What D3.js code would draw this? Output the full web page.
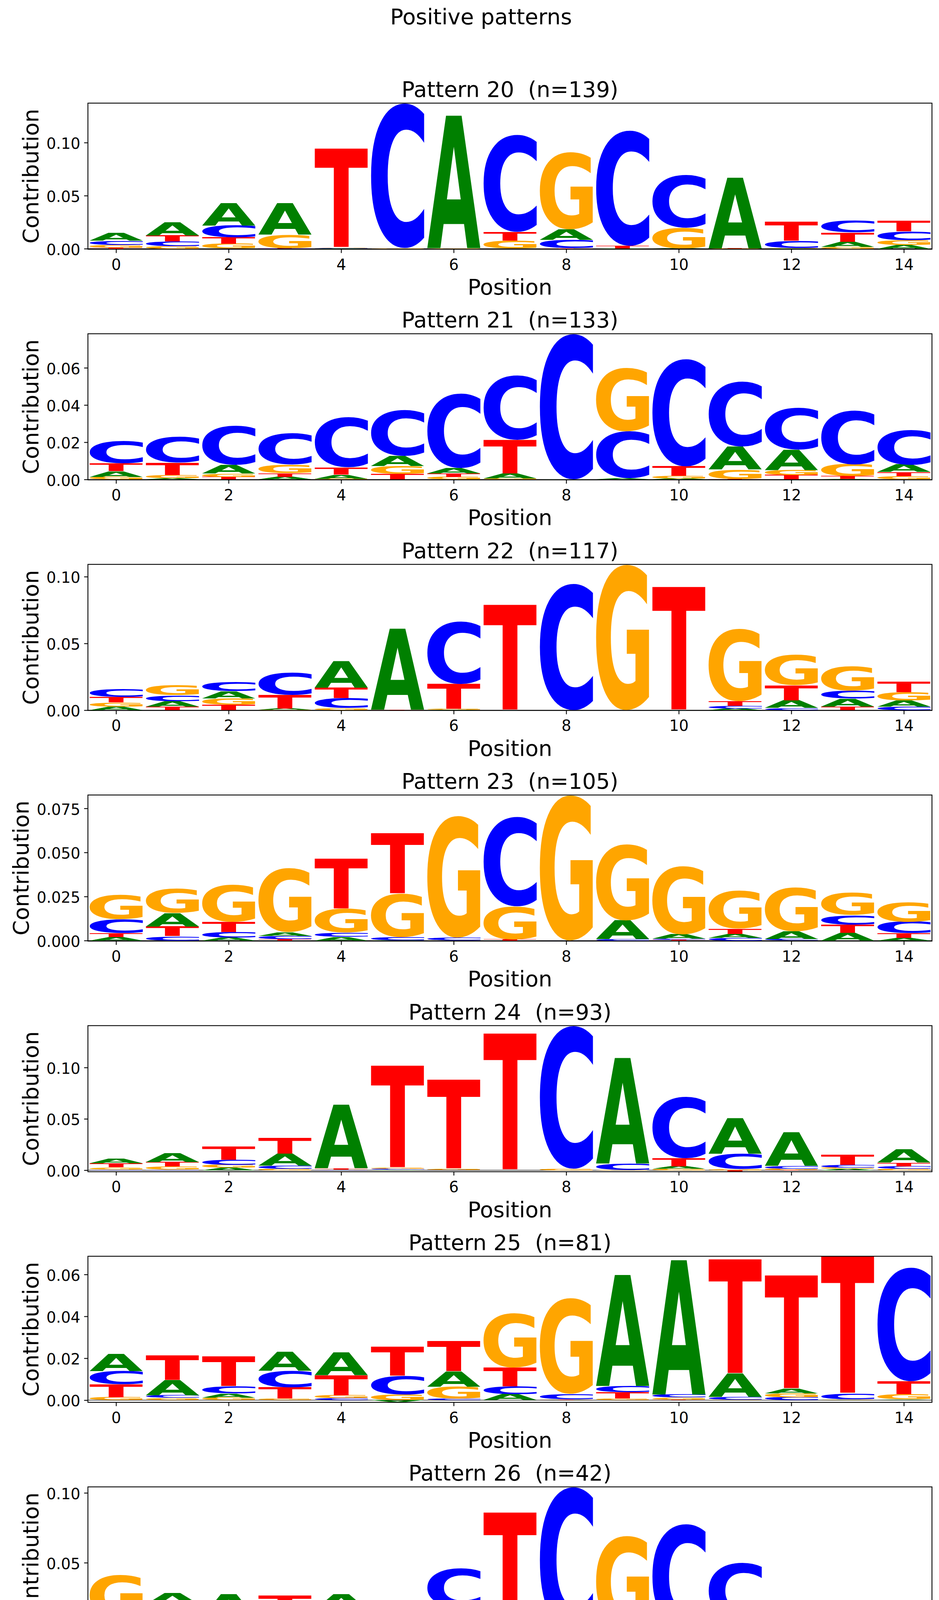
<!DOCTYPE html>
<html>
<head>
<meta charset="utf-8">
<script src="https://cdn.jsdelivr.net/npm/d3@7.9.0/dist/d3.min.js"></script>
<style>
  body { margin: 0; background: #fff; }
  svg text { font-family: "DejaVu Sans", sans-serif; }
</style>
</head>
<body>
<svg id="chart"></svg>
<script>
// letter order in every row: A, C, G, T
const letters = ["A", "C", "G", "T"];
const letterColors = ["#008000", "#0000ff", "#ffa500", "#ff0000"];
const patternIds = [20, 21, 22, 23, 24, 25, 26, 27, 28, 29, 30, 31];
const patternCounts = [139, 133, 117, 105, 93, 81, 42, 42, 37, 26, 26, 21];
const xTickLabels = [0, 2, 4, 6, 8, 10, 12, 14];
const yTickLabels = [
  ["0.00", "0.05", "0.10"],
  ["0.00", "0.02", "0.04", "0.06"],
  ["0.00", "0.05", "0.10"],
  ["0.000", "0.025", "0.050", "0.075"],
  ["0.00", "0.05", "0.10"],
  ["0.00", "0.02", "0.04", "0.06"],
  ["0.00", "0.05", "0.10"],
  ["0.000", "0.025", "0.050", "0.075"],
  ["0.00", "0.05", "0.10"],
  ["0.00", "0.05", "0.10"],
  ["0.00", "0.05", "0.10"],
  ["0.00", "0.05", "0.10"]
];

const p20 = [
  [0.007, 0.004, 0.0026, 0.001], [0.0125, 0.0045, 0.0022, 0.0058], [0.021, 0.0113, 0.0047, 0.006],
  [0.0297, 0.0002, 0.0126, 0.0002], [0.0003, 0.0003, 0.0005, 0.0933], [0, 0.1367, 0.0005, 0],
  [0.125, 0, 0.0005, 0], [0, 0.0917, 0.0075, 0.0083], [0.0098, 0.0079, 0.073, 0.0005],
  [0.0003, 0.109, 0, 0.0023], [0.0002, 0.05, 0.0195, 0.0001], [0.0665, -0.0005, 0.0002, 0.0002],
  [0.0002, 0.0071, 0.0003, 0.0178], [0.0049, 0.0107, 0.0017, 0.0088], [0.0036, 0.0085, 0.0043, 0.0103]
];
const p21 = [
  [0.003, 0.012, 0.0014, 0.0042], [0.0006, 0.014, 0.0018, 0.0066], [0.0046, 0.021, 0.0018, 0.0014],
  [0.0014, 0.0168, 0.0046, 0.002], [0.0022, 0.027, 0.0004, 0.0038], [0.0054, 0.0248, 0.0042, 0.003],
  [0.003, 0.04, 0.0013, 0.0019], [0.0026, 0.0348, 0.0006, 0.018], [-0.0002, 0.0783, 0, 0],
  [0.0006, 0.0253, 0.034, 0], [0.0005, 0.0578, 0.0014, 0.0051], [0.0124, 0.035, 0.0052, 0.0001],
  [0.0108, 0.0224, 0.0028, 0.0024], [0.0002, 0.029, 0.0064, 0.0016], [0.004, 0.0188, 0.0018, 0.0022]
];
const p22 = [
  [0.0026, 0.0058, 0.0032, 0.0042], [0.0041, 0.0045, 0.0073, 0.0026], [0.0052, 0.007, 0.0048, 0.0041],
  [0.001, 0.0165, 0.0002, 0.0103], [0.0199, 0.0075, 0.0015, 0.008], [0.0607, 0, 0, 0.0004],
  [0.0002, 0.0469, 0.0009, 0.0186], [-0.0002, 0, 0, 0.079], [0, 0.0949, 0, 0],
  [0, 0, 0.1092, 0], [0, 0, 0, 0.0924], [0.0013, 0.002, 0.0545, 0.0033],
  [0.0056, 0.0017, 0.0229, 0.0112], [0.0058, 0.0059, 0.0182, 0.0028], [0.0047, 0.0026, 0.0061, 0.0081]
];
const p23 = [
  [0.0019, 0.0078, 0.0138, 0.0024], [0.0076, 0.0025, 0.0139, 0.0055], [0.0017, 0.0032, 0.021, 0.0058],
  [0.0021, 0.0019, 0.0362, 0.0008], [0.0021, 0.0024, 0.0134, 0.0286], [0.0002, 0.0017, 0.0247, 0.0342],
  [0.0001, 0.0015, 0.0693, 0], [0, 0.0509, 0.0186, 0.0008], [0, -0.0003, 0.0826, 0],
  [0.0106, 0.0008, 0.0433, 0], [0.0025, 0.0006, 0.0387, 0.0004], [0.0023, 0.0015, 0.0216, 0.003],
  [0.0044, 0.0008, 0.025, 0.0001], [0.0044, 0.0055, 0.0125, 0.0046], [0.0015, 0.0065, 0.0112, 0.0027]
];
const p24 = [
  [0.0046, 0.0006, 0.0022, 0.0038], [0.0089, 0.0004, 0.0032, 0.0044], [0.0023, 0.0051, 0.0028, 0.0127],
  [0.0118, 0.0032, 0.0013, 0.0152], [0.0618, 0.0002, 0.0006, 0.0009], [0.0005, 0.0008, 0.001, 0.0996],
  [0.0001, 0.0002, 0.001, 0.087], [0, 0, 0, 0.1332], [0, 0.1395, 0.0013, 0],
  [0.1029, 0.0063, 0.0002, 0], [0.0025, 0.0599, 0.0013, 0.0078], [0.0348, 0.0148, 0.001, -0.0015],
  [0.0325, 0.0025, 0.0013, 0.0002], [0.0012, 0.0025, 0.0013, 0.0101], [0.0127, 0.0023, 0.0015, 0.0035]
];
const p25 = [
  [0.0082, 0.0063, 0.0014, 0.0062], [0.0073, 0.0012, 0.0011, 0.0118], [0.0019, 0.0035, 0.0012, 0.0141],
  [0.0089, 0.0079, 0.0008, 0.0054], [0.0109, 0.0009, 0.0014, 0.0096], [-0.00105, 0.0088, 0.0027, 0.014],
  [0.0073, 0.0007, 0.0058, 0.0145], [0.0028, 0.0037, 0.0261, 0.009], [0.0001, 0.0026, 0.0458, 0.0003],
  [0.053, 0.0031, 0.0008, 0.0029], [0.0642, 0.0014, 0.0011, 0.0002], [0.0111, 0.0012, 0.0003, 0.0547],
  [0.0021, 0.0014, 0.0019, 0.0542], [0.0001, 0.0028, 0.0002, 0.0656], [0.0003, 0.0544, 0.0025, 0.0062]
];
const p26 = [
  [0.0001, 0.0074, 0.0293, 0.0045], [0.0079, 0.0059, 0.0072, 0.007], [0.0163, 0.0004, 0.0056, 0.0049],
  [0.0047, 0.0033, 0.0061, 0.0123], [0.0112, 0.0086, 0.0017, 0.006], [0.0012, 0.002, 0.0098, 0.0096],
  [0.0063, 0.0279, 0.0104, 0.0012], [0.0012, 0.0014, 0, 0.0834], [0, 0.1043, 0, 0],
  [0.0019, 0.0012, 0.0653, 0.0009], [0.0028, 0.075, 0, -0.0003], [0.0033, 0.0401, 0.0026, 0.0039],
  [0.0084, 0.0053, 0.0007, 0.0054], [0.0021, 0.0106, 0.0007, 0.0047], [0.0023, 0.0067, 0.0002, 0.0026]
];
const p27 = [
  [0.0051, 0.0034, 0.0031, 0.0007], [0.0019, 0.0003, 0.0059, 0.0073], [0.0011, 0.0048, 0.003, 0.0104],
  [0.0019, 0.0074, 0.0166, 0.0025], [0.002, 0.0018, 0.0007, 0.0405], [0.0004, 0.0289, 0.0246, 0.0074],
  [0, 0, 0.0769, 0], [0, 0.0895, 0, 0], [0, 0, 0.0945, 0],
  [0.0737, 0, 0, -0.00025], [0.0129, 0.0057, 0.0224, 0.0073], [0.0333, 0.0018, 0.0031, 0.0046],
  [0.0029, 0.0064, 0.0018, 0.0327], [0.0127, 0.0093, 0.0036, 0.0114], [0.0038, 0.0114, 0.0129, 0.0024]
];
const p28 = [
  [0.0025, 0.0044, 0.0028, 0.0012], [0.0172, 0.0037, -0.0021, 0.0052], [0, 0, 0.0293, 0.0007],
  [0.0258, 0.0067, 0, 0.0204], [0.0026, 0.0008, 0.0581, 0.0007], [0, 0, 0, 0.092],
  [0, 0.0009, 0.0476, 0.0377], [0, 0, 0.1029, 0], [0, 0.1031, 0, 0],
  [0.0028, 0.0881, 0, 0], [0.0715, 0, 0, 0.0025], [0, 0.0269, 0.023, 0.0037],
  [0.02, -0.0017, 0.0023, 0.005], [0, 0.0103, 0.0044, 0.0099], [0.0031, 0, 0.0079, 0.0047]
];
const p29 = [
  [0.012, 0.0015, 0.0068, 0.0041], [0.0063, 0.0035, 0.0022, 0.0131], [0.0044, 0.0113, 0.0137, 0.0048],
  [0.0087, 0.0121, 0.0172, -0.0005], [0.0032, 0.0141, 0, 0.0409], [0.063, 0.0154, 0, 0],
  [0, 0, 0.0823, 0.0051], [0, 0.1021, 0, 0], [0, 0, 0.1139, 0],
  [0.1093, 0, 0, 0], [0, 0, 0, 0.0805], [0.0216, 0.0008, 0, 0.0046],
  [0.006, 0.0064, 0.0068, 0], [0, 0.0057, -0.0014, 0.0031], [0, -0.0006, 0.0055, 0.0039]
];
const p30 = [
  [0.0072, -0.0046, 0.0009, 0.0002], [0.0062, 0.0046, 0.0053, 0.002], [0.0066, 0.0009, 0.0086, -0.0008],
  [0.0004, 0.0092, 0.0083, 0.0012], [0.0022, 0.0058, 0.0047, 0.0208], [0.0652, 0, 0, 0],
  [0, 0, 0, 0.1206], [0, 0.1432, 0, 0], [0.0055, 0, 0.1012, 0],
  [0, 0.0938, 0, 0], [0, 0, 0, 0.0668], [0.0242, 0, 0.0169, 0],
  [0.0013, 0.0087, 0.0022, 0.0091], [0, 0.009, 0.0087, 0.0033], [0.0207, 0.002, 0.0042, 0.0074]
];
const p31 = [
  [0.0044, 0.0104, 0.0024, 0.0051], [-0.0012, 0.0008, 0.0051, 0.0069], [0.0066, 0.0008, 0.0092, 0],
  [0, 0.0047, 0.0105, 0.0076], [0.0051, 0.0003, 0.0064, 0.002], [0.0033, 0, 0.0035, 0.0215],
  [0.001, 0.0247, 0.0073, 0], [0, 0, 0, 0.0823], [0, 0.102, 0, 0],
  [0.0002, 0, 0.0724, 0], [0, 0.0752, 0, 0.0032], [0, 0.0558, 0, 0.0036],
  [0.0266, 0.0029, 0.0039, 0.0112], [0.0059, 0.0038, 0.0039, 0.0337], [0.0202, 0.0046, 0.0077, 0.0018]
];
const patterns = [p20, p21, p22, p23, p24, p25, p26, p27, p28, p29, p30, p31];

const width = 2403;
const height = 7281;
const axLeft = 225;
const axRight = 2385;
const firstTop = 264;
const panelStep = 590.4;
const panelHeight = 374;
const labelSize = 55.6;
const tickSize = 39;
const glyphWidth = 0.95;

const svg = d3.select("#chart").attr("width", width).attr("height", height);
svg.append("rect").attr("width", width).attr("height", height).attr("fill", "#fff");

// ink bounds of each glyph, used to stretch letters into their boxes
const glyphFontSize = 200;
const ctx = document.createElement("canvas").getContext("2d");
ctx.font = `bold ${glyphFontSize}px "DejaVu Sans"`;
const glyphBox = {};
letters.forEach((l) => {
  const m = ctx.measureText(l);
  glyphBox[l] = {
    left: m.actualBoundingBoxLeft,
    right: m.actualBoundingBoxRight,
    ascent: m.actualBoundingBoxAscent,
    descent: m.actualBoundingBoxDescent,
  };
});

function stackColumn(row) {
  const items = row
    .map((v, i) => ({ letter: letters[i], color: letterColors[i], value: v }))
    .filter((d) => d.value !== 0);
  const pos = items.filter((d) => d.value > 0).sort((a, b) => a.value - b.value);
  const neg = items.filter((d) => d.value < 0).sort((a, b) => b.value - a.value);
  let acc = 0;
  pos.forEach((d) => { d.y0 = acc; acc += d.value; d.y1 = acc; d.flip = false; });
  acc = 0;
  neg.forEach((d) => { d.y1 = acc; acc += d.value; d.y0 = acc; d.flip = true; });
  return pos.concat(neg);
}

function drawGlyph(g, d, x0, x1, yTop, yBottom) {
  const b = glyphBox[d.letter];
  const sx = (x1 - x0) / (b.left + b.right);
  const sy = (yBottom - yTop) / (b.ascent + b.descent);
  const place = d.flip
    ? `translate(${x0},${yBottom}) scale(${sx},${-sy})`
    : `translate(${x0},${yTop}) scale(${sx},${sy})`;
  g.append("text")
    .attr("transform", `${place} translate(${b.left},${b.ascent})`)
    .attr("font-size", glyphFontSize)
    .attr("font-weight", "bold")
    .attr("fill", d.color)
    .text(d.letter);
}

svg.append("text")
  .attr("x", 1231)
  .attr("y", 62)
  .attr("text-anchor", "middle")
  .attr("font-size", labelSize)
  .text("Positive patterns");

const x = d3.scaleLinear().domain([-0.5, 14.5]).range([axLeft, axRight]);

patterns.forEach((matrix, k) => {
  const top = firstTop + k * panelStep;
  const bottom = top + panelHeight;
  const columns = matrix.map(stackColumn);
  const yMax = d3.max(matrix, (row) => d3.sum(row.filter((v) => v > 0)));
  const yMin = d3.min(matrix, (row) => d3.sum(row.filter((v) => v < 0)));
  const y = d3.scaleLinear().domain([yMin, yMax]).range([bottom, top]);

  const panel = svg.append("g").attr("class", "panel");

  panel.append("line")
    .attr("x1", axLeft).attr("x2", axRight)
    .attr("y1", y(0)).attr("y2", y(0))
    .attr("stroke", "#000").attr("stroke-width", 1.4);

  const glyphs = panel.append("g");
  columns.forEach((col, p) => {
    col.forEach((d) => {
      drawGlyph(glyphs, d, x(p - glyphWidth / 2), x(p + glyphWidth / 2), y(d.y1), y(d.y0));
    });
  });

  const labels = yTickLabels[k];
  const yAxis = panel.append("g")
    .attr("transform", `translate(${axLeft},0)`)
    .call(d3.axisLeft(y).tickValues(labels.map(Number)).tickFormat((d, i) => labels[i])
      .tickSize(9.7).tickPadding(9.7));
  const xAxis = panel.append("g")
    .attr("transform", `translate(0,${bottom})`)
    .call(d3.axisBottom(x).tickValues(xTickLabels).tickFormat(d3.format("d"))
      .tickSize(9.7).tickPadding(9.7));

  [yAxis, xAxis].forEach((a) => {
    a.select(".domain").remove();
    a.selectAll(".tick line").attr("stroke", "#000").attr("stroke-width", 2.2);
    a.selectAll(".tick text")
      .attr("fill", "#000")
      .attr("font-size", tickSize)
      .attr("font-family", "DejaVu Sans");
  });
  yAxis.selectAll(".tick text").attr("dy", "0.4em");
  xAxis.selectAll(".tick text").attr("dy", "0.85em");

  panel.append("rect")
    .attr("x", axLeft).attr("y", top)
    .attr("width", axRight - axLeft).attr("height", panelHeight)
    .attr("fill", "none").attr("stroke", "#000").attr("stroke-width", 2.2);

  const cx = (axLeft + axRight) / 2;
  panel.append("text")
    .attr("x", cx).attr("y", top - 16)
    .attr("text-anchor", "middle")
    .attr("font-size", labelSize)
    .style("white-space", "pre")
    .text(`Pattern ${patternIds[k]}  (n=${patternCounts[k]})`);

  panel.append("text")
    .attr("x", cx).attr("y", bottom + 116)
    .attr("text-anchor", "middle")
    .attr("font-size", labelSize)
    .text("Position");

  const tickLeft = d3.min(yAxis.selectAll(".tick text").nodes(), (n) => n.getBBox().x) + axLeft;
  const ly = (top + bottom) / 2;
  const lx = tickLeft - 21;
  panel.append("text")
    .attr("transform", `translate(${lx},${ly}) rotate(-90)`)
    .attr("text-anchor", "middle")
    .attr("font-size", labelSize)
    .text("Contribution");
});
</script>
</body>
</html>
